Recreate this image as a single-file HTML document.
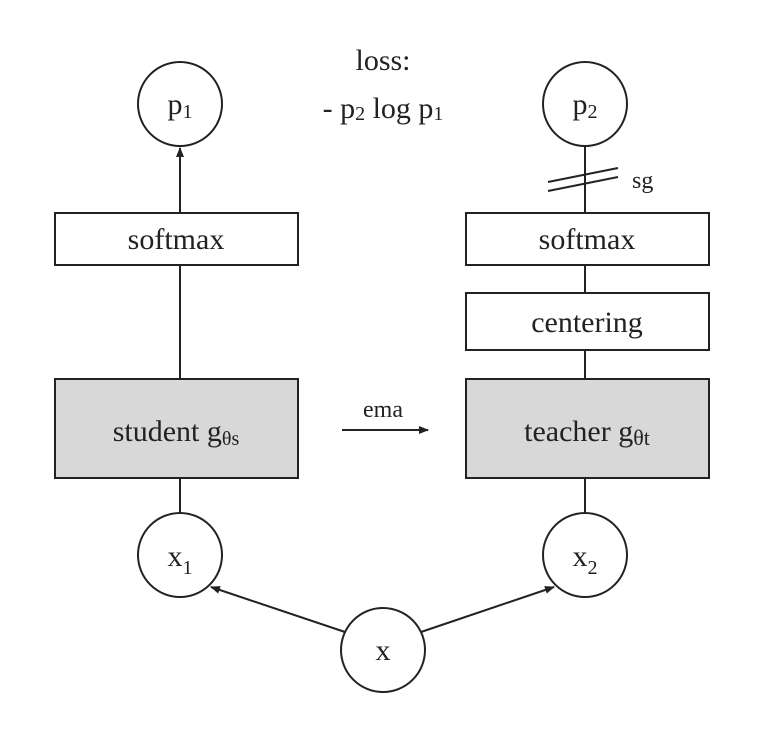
<!DOCTYPE html>
<html><head><style>
html,body{margin:0;padding:0;background:#fff;}
svg{display:block;}
text{font-family:"Liberation Serif",serif;fill:#222;}
</style></head><body>
<svg width="783" height="733" viewBox="0 0 783 733">
<defs>
<marker id="a" markerWidth="10" markerHeight="10" refX="9" refY="5" orient="auto" markerUnits="userSpaceOnUse">
<path d="M0,1 L10,5 L0,9 z" fill="#222"/></marker>
</defs>
<g stroke="#222" stroke-width="2" fill="none">
<circle cx="180" cy="104" r="42" fill="#fff"/>
<circle cx="585" cy="104" r="42" fill="#fff"/>
<circle cx="180" cy="555" r="42" fill="#fff"/>
<circle cx="585" cy="555" r="42" fill="#fff"/>
<circle cx="383" cy="650" r="42" fill="#fff"/>
<rect x="55" y="213" width="243" height="52" fill="#fff"/>
<rect x="466" y="213" width="243" height="52" fill="#fff"/>
<rect x="466" y="293" width="243" height="57" fill="#fff"/>
<rect x="55" y="379" width="243" height="99" fill="#d8d8d8"/>
<rect x="466" y="379" width="243" height="99" fill="#d8d8d8"/>
<line x1="180" y1="213" x2="180" y2="148" marker-end="url(#a)"/>
<line x1="180" y1="265" x2="180" y2="379"/>
<line x1="180" y1="478" x2="180" y2="513"/>
<line x1="585" y1="146" x2="585" y2="213"/>
<line x1="585" y1="265" x2="585" y2="293"/>
<line x1="585" y1="350" x2="585" y2="379"/>
<line x1="585" y1="478" x2="585" y2="513"/>
<line x1="548" y1="182" x2="618" y2="168"/>
<line x1="548" y1="191" x2="618" y2="177"/>
<line x1="342" y1="430" x2="428" y2="430" marker-end="url(#a)"/>
<line x1="345" y1="632" x2="211" y2="587" marker-end="url(#a)"/>
<line x1="421" y1="632" x2="554" y2="587" marker-end="url(#a)"/>
</g>
<g font-size="30" text-anchor="middle">
<text x="180" y="114">p<tspan font-size="20" dy="4">1</tspan></text>
<text x="585" y="114">p<tspan font-size="20" dy="4">2</tspan></text>
<text x="180" y="566">x<tspan font-size="20" dy="8">1</tspan></text>
<text x="585" y="566">x<tspan font-size="20" dy="8">2</tspan></text>
<text x="383" y="660">x</text>
<text x="176" y="249">softmax</text>
<text x="587" y="249">softmax</text>
<text x="587" y="332">centering</text>
<text x="176" y="441">student g<tspan font-size="20" dy="4">θs</tspan></text>
<text x="587" y="441">teacher g<tspan font-size="22" dy="4">θt</tspan></text>
<text x="383" y="70">loss:</text>
<text x="383" y="118">- p<tspan font-size="20" dy="2">2</tspan><tspan dy="-2"> log p</tspan><tspan font-size="20" dy="2">1</tspan></text>
</g>
<text x="383" y="417" font-size="24" text-anchor="middle">ema</text>
<text x="632" y="188" font-size="24">sg</text>
</svg>
</body></html>
